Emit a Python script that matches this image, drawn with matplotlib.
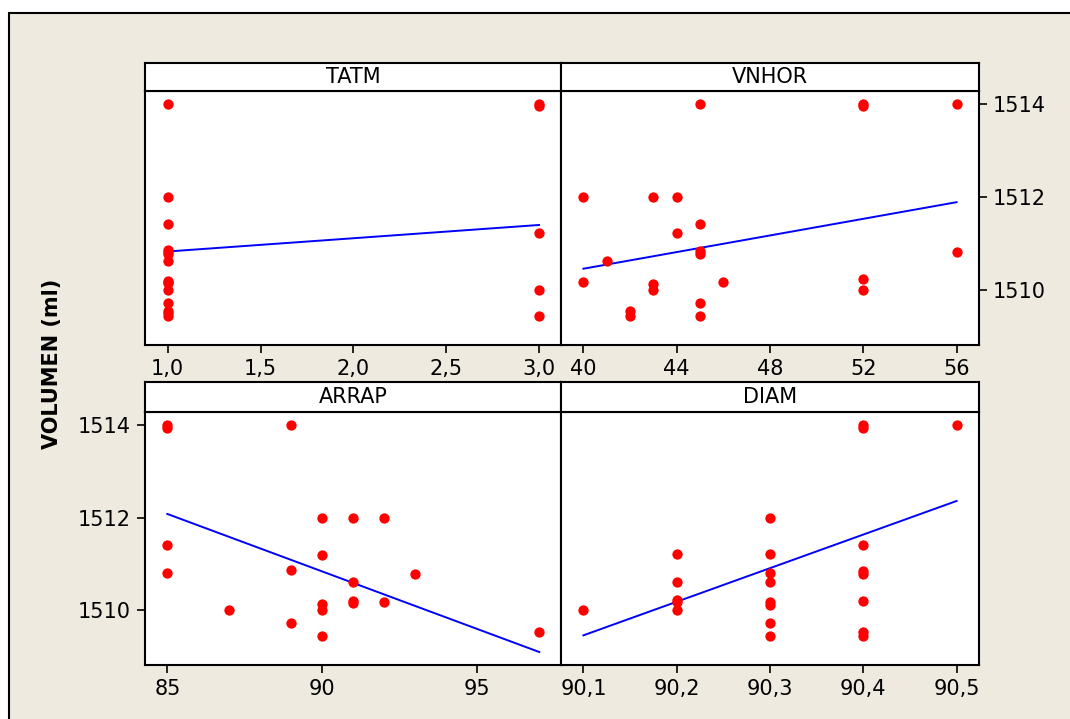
import matplotlib
matplotlib.use("Agg")
import matplotlib.pyplot as plt
from matplotlib.patches import Rectangle

# data
tatm_x = [1, 1, 1, 1, 1, 1, 1, 1, 1, 1, 1, 1, 1, 1, 1, 3, 3, 3, 3, 3]
tatm_y = [1514.0, 1512.0, 1511.42, 1510.86, 1510.78, 1510.81, 1510.62, 1510.2, 1510.15,
          1510.18, 1510.01, 1509.73, 1509.55, 1509.45, 1509.5,
          1514.0, 1513.95, 1511.22, 1510.0, 1509.44]
tatm_fit_x = [1, 3]
tatm_fit_y = [1510.83, 1511.40]

vnhor_x = [45, 52, 52, 56, 40, 43, 44, 45, 44, 45, 45, 41, 56, 40, 43, 43, 46, 52, 52, 42, 42, 45, 45]
vnhor_y = [1514.0, 1514.0, 1513.95, 1514.0, 1512.0, 1512.0, 1512.0, 1511.43, 1511.22, 1510.84,
           1510.78, 1510.62, 1510.81, 1510.18, 1510.14, 1510.01, 1510.18, 1510.23, 1510.01,
           1509.55, 1509.45, 1509.73, 1509.45]
vnhor_fit_x = [40, 56]
vnhor_fit_y = [1510.46, 1511.89]

arrap_x = [85, 85, 89, 85, 85, 87, 89, 89, 90, 90, 90, 90, 90, 91, 91, 91, 91, 92, 92, 93, 97]
arrap_y = [1514.0, 1513.93, 1514.0, 1511.41, 1510.81, 1510.01, 1510.86, 1509.73, 1512.0, 1511.2,
           1510.14, 1510.01, 1509.45, 1512.0, 1510.61, 1510.21, 1510.16, 1512.0, 1510.17,
           1510.78, 1509.53]
arrap_fit_x = [85, 97]
arrap_fit_y = [1512.08, 1509.10]

diam_x = [90.4, 90.4, 90.5, 90.1, 90.2, 90.2, 90.2, 90.2, 90.2, 90.3, 90.3, 90.3, 90.3,
          90.3, 90.3, 90.3, 90.3, 90.4, 90.4, 90.4, 90.4, 90.4, 90.4]
diam_y = [1514.0, 1513.93, 1514.0, 1510.01, 1511.21, 1510.61, 1510.22, 1510.17, 1510.01,
          1512.0, 1511.21, 1510.81, 1510.61, 1510.17, 1510.12, 1509.73, 1509.45,
          1511.41, 1510.84, 1510.78, 1510.21, 1509.53, 1509.45]
diam_fit_x = [90.1, 90.5]
diam_fit_y = [1509.46, 1512.36]

tatm_ticks = [1.0, 1.5, 2.0, 2.5, 3.0]
tatm_labels = ["1,0", "1,5", "2,0", "2,5", "3,0"]
vnhor_ticks = [40, 44, 48, 52, 56]
arrap_ticks = [85, 90, 95]
diam_ticks = [90.1, 90.2, 90.3, 90.4, 90.5]
diam_labels = ["90,1", "90,2", "90,3", "90,4", "90,5"]
y_ticks = [1510, 1512, 1514]

W, H = 1070, 719
fig = plt.figure(figsize=(W / 100, H / 100), dpi=100)
fig.patch.set_facecolor("white")
frame = Rectangle((9 / W, -0.1), 1.2, 1.1 - 13 / H, transform=fig.transFigure,
                  facecolor="#EEEAE0", edgecolor="black", linewidth=1.5, zorder=-10)
fig.patches.append(frame)


def px_axes(x0, y0, x1, y1):
    return fig.add_axes([x0 / W, (H - y1) / H, (x1 - x0) / W, (y1 - y0) / H])


def panel(box, strip, title, xs, ys, fx, fy, xlim, ticks, labels, yside):
    ax = px_axes(*box)
    ax.set_facecolor("white")
    ax.scatter(xs, ys, s=55, color="#FF0000", linewidths=0, zorder=3)
    ax.plot(fx, fy, color="#0000FF", linewidth=1.4, zorder=2)
    ax.set_xlim(xlim)
    ax.set_ylim(1508.82, 1514.28)
    ax.set_xticks(ticks)
    ax.set_xticklabels(labels)
    ax.set_yticks(y_ticks)
    if yside == "right":
        ax.yaxis.tick_right()
    elif yside is None:
        ax.tick_params(axis="y", left=False, labelleft=False)
    ax.tick_params(direction="out", length=6, width=1.2, labelsize=15, pad=4)
    for sp in ax.spines.values():
        sp.set_linewidth(1.5)

    st = px_axes(*strip)
    st.set_facecolor("white")
    st.set_xticks([])
    st.set_yticks([])
    for sp in st.spines.values():
        sp.set_linewidth(1.5)
    st.text(0.5, 0.5, title, ha="center", va="center", fontsize=15, transform=st.transAxes)
    return ax


panel((145, 91, 561, 345), (145, 63, 561, 91), "TATM", tatm_x, tatm_y, tatm_fit_x, tatm_fit_y,
      (0.878, 3.118), tatm_ticks, tatm_labels, None)
panel((561, 91, 979, 345), (561, 63, 979, 91), "VNHOR", vnhor_x, vnhor_y, vnhor_fit_x, vnhor_fit_y,
      (39.04, 56.96), vnhor_ticks, [str(t) for t in vnhor_ticks], "right")
panel((145, 412, 561, 665), (145, 382, 561, 412), "ARRAP", arrap_x, arrap_y, arrap_fit_x, arrap_fit_y,
      (84.28, 97.70), arrap_ticks, [str(t) for t in arrap_ticks], "left")
panel((561, 412, 979, 665), (561, 382, 979, 412), "DIAM", diam_x, diam_y, diam_fit_x, diam_fit_y,
      (90.076, 90.524), diam_ticks, diam_labels, None)

fig.text(52 / W, 1 - 364 / H, "VOLUMEN (ml)", rotation=90, ha="center", va="center",
         fontsize=15, fontweight="bold")

fig.savefig("out.png", dpi=100)
